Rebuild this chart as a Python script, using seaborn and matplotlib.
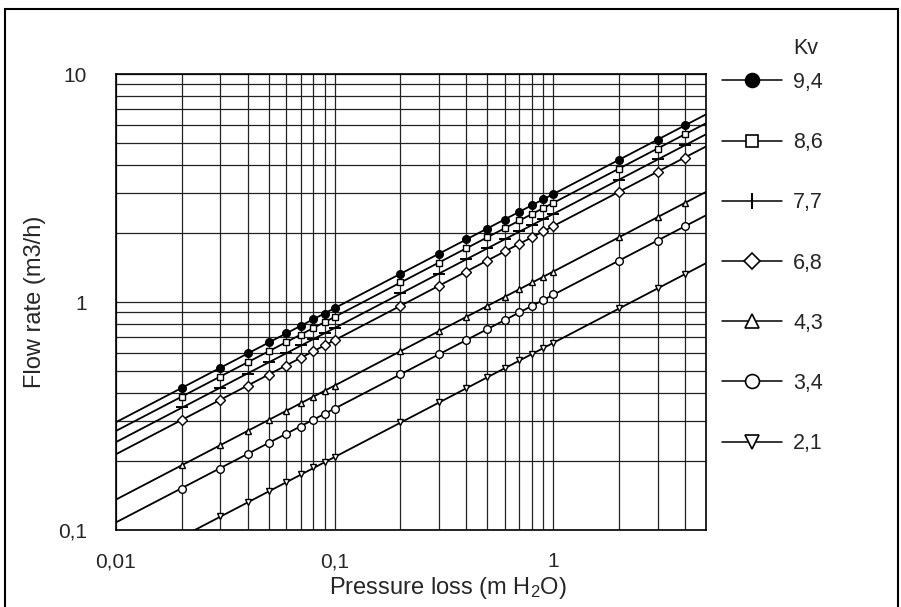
"""
Valve flow chart: flow rate vs pressure loss for several Kv values (log-log)
"""

import matplotlib
matplotlib.use("Agg")
import matplotlib.pyplot as plt
import seaborn as sns
from matplotlib.lines import Line2D
from matplotlib.patches import Rectangle
from matplotlib.ticker import FixedLocator, FixedFormatter, LogLocator, NullFormatter

# ---------------- DATA ----------------
pressure = [0.02, 0.03, 0.04, 0.05, 0.06, 0.07, 0.08, 0.09, 0.1,
            0.2, 0.3, 0.4, 0.5, 0.6, 0.7, 0.8, 0.9, 1, 2, 3, 4]
line_x = [0.01, 5]   # lines run edge to edge

kv_labels = ["9,4", "8,6", "7,7", "6,8", "4,3", "3,4", "2,1"]

flow_94 = [0.42, 0.515, 0.595, 0.665, 0.73, 0.785, 0.84, 0.89, 0.94,
           1.33, 1.63, 1.88, 2.10, 2.30, 2.49, 2.66, 2.82, 2.97, 4.20, 5.15, 5.95]
flow_86 = [0.385, 0.47, 0.545, 0.61, 0.665, 0.72, 0.77, 0.815, 0.86,
           1.22, 1.49, 1.72, 1.92, 2.11, 2.28, 2.43, 2.58, 2.72, 3.85, 4.71, 5.44]
flow_77 = [0.345, 0.42, 0.485, 0.545, 0.595, 0.645, 0.69, 0.73, 0.77,
           1.09, 1.33, 1.54, 1.72, 1.89, 2.04, 2.18, 2.31, 2.43, 3.44, 4.22, 4.87]
flow_68 = [0.305, 0.37, 0.43, 0.48, 0.525, 0.57, 0.61, 0.645, 0.68,
           0.96, 1.18, 1.36, 1.52, 1.67, 1.80, 1.92, 2.04, 2.15, 3.04, 3.72, 4.30]
flow_43 = [0.192, 0.235, 0.272, 0.304, 0.333, 0.36, 0.385, 0.408, 0.43,
           0.608, 0.745, 0.86, 0.96, 1.05, 1.14, 1.22, 1.29, 1.36, 1.92, 2.36, 2.72]
flow_34 = [0.152, 0.186, 0.215, 0.24, 0.263, 0.284, 0.304, 0.323, 0.34,
           0.481, 0.589, 0.68, 0.76, 0.833, 0.90, 0.962, 1.02, 1.08, 1.52, 1.86, 2.15]
flow_21 = [0.094, 0.115, 0.133, 0.148, 0.163, 0.176, 0.188, 0.199, 0.21,
           0.297, 0.364, 0.42, 0.47, 0.514, 0.556, 0.594, 0.63, 0.664, 0.94, 1.15, 1.33]

# flow at the left (0.01) and right (5) edges of the chart
line_start = [0.297, 0.272, 0.243, 0.215, 0.136, 0.108, 0.066]
line_end = [6.65, 6.08, 5.44, 4.81, 3.04, 2.40, 1.48]

x_ticks = [0.01, 0.1, 1]
x_ticklabels = ["0,01", "0,1", "1"]
y_ticks = [0.1, 1, 10]
y_ticklabels = ["0,1", "1", "10"]

# ---------------- STYLE ----------------
sns.set_style("white")
plt.rcParams["font.family"] = ["Liberation Sans", "DejaVu Sans"]

flows = [flow_94, flow_86, flow_77, flow_68, flow_43, flow_34, flow_21]
markers = ["o", "s", "_", "D", "^", "o", "v"]
fills = ["black", "white", "none", "white", "white", "white", "white"]
plot_ms = [5.5, 5, 8, 5, 5, 5.5, 5]
legend_markers = ["o", "s", "|", "D", "^", "o", "v"]
legend_ms = [10, 8.5, 12, 8.5, 10, 10, 10]

fig = plt.figure(figsize=(9.01, 6.07), dpi=100)
ax = fig.add_axes([116 / 901, 77 / 607, 590 / 901, 456 / 607])
ax.set_xscale("log")
ax.set_yscale("log")

# ---------------- LINES + MARKERS ----------------
for flow, start, end, m, fc, ms in zip(flows, line_start, line_end, markers, fills, plot_ms):
    sns.lineplot(x=line_x, y=[start, end], ax=ax, color="black", lw=1.3)
    sns.lineplot(x=pressure, y=flow, ax=ax, color="black", ls="", sort=False,
                 marker=m, ms=ms, mfc=fc, mec="black",
                 mew=1.0 if m != "_" else 1.4)

ax.set_xlim(0.01, 5)
ax.set_ylim(0.1, 10)

# ---------------- AXES ----------------
ax.xaxis.set_major_locator(FixedLocator(x_ticks))
ax.xaxis.set_major_formatter(FixedFormatter(x_ticklabels))
ax.yaxis.set_major_locator(FixedLocator(y_ticks))
ax.yaxis.set_major_formatter(FixedFormatter(y_ticklabels))
ax.xaxis.set_minor_locator(LogLocator(base=10, subs=range(2, 10), numticks=20))
ax.yaxis.set_minor_locator(LogLocator(base=10, subs=range(2, 10), numticks=20))
ax.xaxis.set_minor_formatter(NullFormatter())
ax.yaxis.set_minor_formatter(NullFormatter())

ax.grid(True, which="both", color="#222222", lw=0.9)
ax.tick_params(which="both", length=0)
ax.tick_params(axis="x", pad=16, labelsize=15)
ax.tick_params(axis="y", pad=21, labelsize=15)
for s in ax.spines.values():
    s.set_color("black")
    s.set_linewidth(1.2)

ax.set_xlabel("Pressure loss (m H$\\mathregular{_2}$O)", fontsize=17)
ax.xaxis.set_label_coords(0.563, -0.098)
ax.set_ylabel("Flow rate (m3/h)", fontsize=17)
ax.yaxis.set_label_coords(-0.118, 0.5)

# ---------------- LEGEND ----------------
handles = [Line2D([], [], color="black", lw=1.1, marker=m, ms=ms,
                  mfc=fc if fc != "none" else "white", mec="black",
                  mew=1.5 if m == "|" else 1.2)
           for m, ms, fc in zip(legend_markers, legend_ms, fills)]
fig.legend(handles, kv_labels, loc="upper left",
           bbox_to_anchor=(722 / 901, (607 - 72) / 607),
           frameon=False, fontsize=15.5, handlelength=2.8, handletextpad=0.5,
           labelspacing=1.82, borderpad=0, borderaxespad=0)
fig.text(793 / 901, (607 - 48) / 607, "Kv", fontsize=15.5, ha="left", va="center")

# outer frame
fig.add_artist(Rectangle((5 / 901, -0.02), 893 / 901, 1.02 - 9 / 607,
                         transform=fig.transFigure, fill=False,
                         edgecolor="black", lw=1.5))

fig.savefig("out.png", dpi=100)
